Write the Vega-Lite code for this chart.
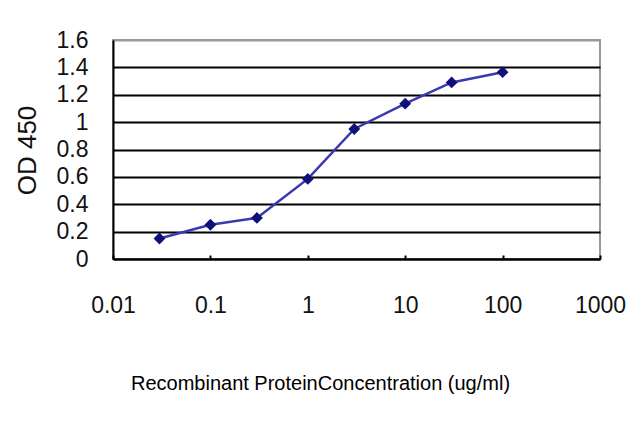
{
  "$schema": "https://vega.github.io/schema/vega-lite/v6.json",
  "autosize": {"type": "none"},
  "width": 487,
  "height": 219,
  "padding": {"left": 113, "top": 40, "right": 40, "bottom": 168},
  "background": "white",
  "config": {
    "font": "Liberation Sans",
    "view": {"stroke": "#999999", "strokeWidth": 2}
  },
  "data": {
    "values": [
      {"conc": 0.03, "od": 0.15},
      {"conc": 0.1, "od": 0.25},
      {"conc": 0.3, "od": 0.30},
      {"conc": 1, "od": 0.585},
      {"conc": 3, "od": 0.95},
      {"conc": 10, "od": 1.135},
      {"conc": 30, "od": 1.29},
      {"conc": 100, "od": 1.365}
    ]
  },
  "encoding": {
    "x": {
      "field": "conc",
      "type": "quantitative",
      "scale": {"type": "log", "domain": [0.01, 1000], "nice": false},
      "axis": {
        "title": "Recombinant ProteinConcentration (ug/ml)",
        "titleFont": "Liberation Sans",
        "titleFontSize": 20,
        "titleFontWeight": "normal",
        "titleColor": "#000000",
        "titleX": 207,
        "titleY": 124,
        "titleBaseline": "middle",
        "values": [0.01, 0.1, 1, 10, 100, 1000],
        "format": "~g",
        "labelFontSize": 23,
        "labelColor": "#111111",
        "labelPadding": 39,
        "labelFlush": false,
        "labelOverlap": false,
        "grid": false,
        "domainColor": "black",
        "domainWidth": 2,
        "ticks": true,
        "tickSize": -4,
        "tickColor": "black",
        "tickWidth": 2
      }
    },
    "y": {
      "field": "od",
      "type": "quantitative",
      "scale": {"domain": [0, 1.6], "nice": false},
      "axis": {
        "title": "OD 450",
        "titleFont": "Liberation Sans",
        "titleFontSize": 26,
        "titleFontWeight": "normal",
        "titleColor": "#111111",
        "titleAngle": 270,
        "titleBaseline": "middle",
        "titleX": -86,
        "titleY": 110,
        "values": [0, 0.2, 0.4, 0.6, 0.8, 1, 1.2, 1.4, 1.6],
        "format": "~g",
        "labelFontSize": 23,
        "labelColor": "#111111",
        "labelPadding": 25,
        "labelOverlap": false,
        "labelFlush": false,
        "ticks": false,
        "domainColor": "black",
        "domainWidth": 2,
        "grid": true,
        "gridColor": {"condition": {"test": "datum.value >= 1.6", "value": "#999999"}, "value": "black"},
        "gridWidth": 2,
        "gridOpacity": 1
      }
    }
  },
  "layer": [
    {"mark": {"type": "line", "color": "#3a3ab0", "strokeWidth": 2.5}},
    {"mark": {"type": "point", "shape": "diamond", "filled": true, "size": 140, "color": "#10107a", "opacity": 1}}
  ]
}
